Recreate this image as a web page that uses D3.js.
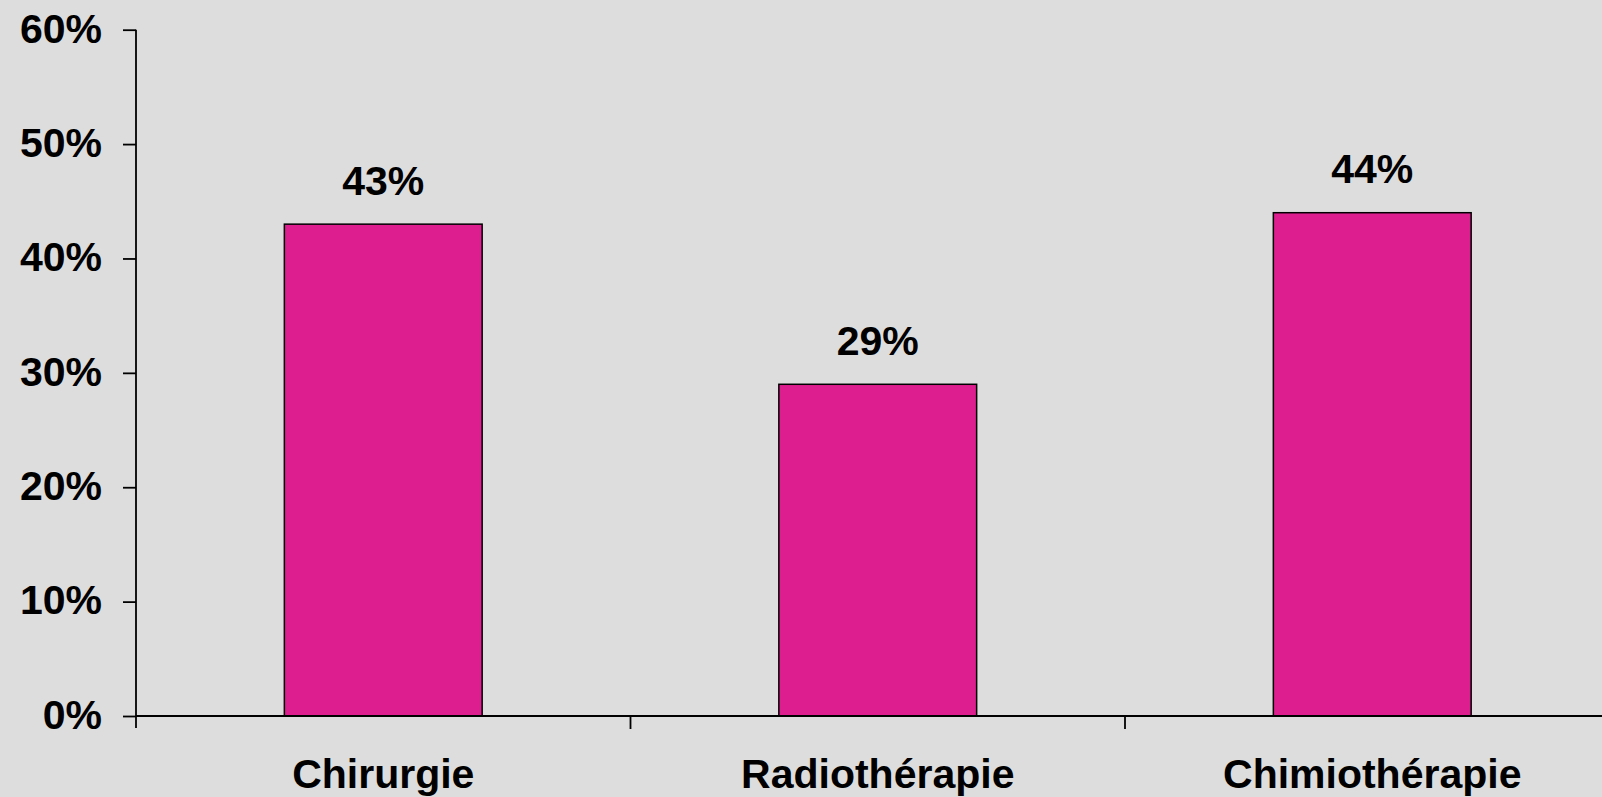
<!DOCTYPE html>
<html>
<head>
<meta charset="utf-8">
<script src="https://cdn.jsdelivr.net/npm/d3@7"></script>
<style>
  html, body { margin: 0; padding: 0; background: #dddddd; }
  svg { display: block; }
  text { font-family: "Liberation Sans", Arial, sans-serif; font-weight: bold; fill: #000; }
</style>
</head>
<body>
<svg id="chart" width="1602" height="797"></svg>
<script>
// Share of patients by treatment type
const categories = ["Chirurgie", "Radiothérapie", "Chimiothérapie"];
const values = [43, 29, 44];
const yTicks = [0, 10, 20, 30, 40, 50, 60];

const svg = d3.select("#chart");
const W = 1602, H = 797;

svg.append("rect").attr("width", W).attr("height", H).attr("fill", "#dddddd");

const x = d3.scaleBand()
  .domain(categories)
  .range([136, 1619.5])
  .paddingInner(0.6)
  .paddingOuter(0.3);

const y = d3.scaleLinear().domain([0, 60]).range([716, 29.7]);

// Bars
svg.append("g").selectAll("rect")
  .data(values)
  .join("rect")
  .attr("x", (d, i) => x(categories[i]))
  .attr("y", d => y(d))
  .attr("width", x.bandwidth())
  .attr("height", d => y(0) - y(d))
  .attr("fill", "#dd1e8f")
  .attr("stroke", "#000")
  .attr("stroke-width", 1.5);

// Value labels
svg.append("g").selectAll("text")
  .data(values)
  .join("text")
  .attr("x", (d, i) => x(categories[i]) + x.bandwidth() / 2)
  .attr("y", d => y(d) - 29.5)
  .attr("text-anchor", "middle")
  .attr("font-size", 41)
  .text(d => d + "%");

// Y axis
const yAxis = svg.append("g")
  .attr("transform", "translate(136,0)")
  .call(d3.axisLeft(y).tickValues(yTicks).tickSize(13).tickPadding(21).tickFormat(d => d + "%"));
yAxis.select(".domain").attr("stroke", "#000").attr("stroke-width", 1.8).attr("d", "M0,29.7V728");
yAxis.selectAll(".tick line").attr("stroke", "#000").attr("stroke-width", 1.8);
yAxis.selectAll(".tick text")
  .attr("font-size", 41)
  .attr("font-family", "Liberation Sans, Arial, sans-serif")
  .attr("font-weight", "bold")
  .attr("fill", "#000")
  .attr("dy", "0.3em");

// X axis
const bandEdges = categories.map(c => x(c) - x.step() * x.paddingInner() / 2);
const xAxisG = svg.append("g").attr("transform", `translate(0,${y(0)})`);
xAxisG.append("line")
  .attr("x1", 136).attr("x2", W)
  .attr("y1", 0).attr("y2", 0)
  .attr("stroke", "#000").attr("stroke-width", 1.8);
xAxisG.selectAll("line.tick")
  .data(bandEdges.slice(1))
  .join("line")
  .attr("class", "tick")
  .attr("x1", d => d).attr("x2", d => d)
  .attr("y1", 0).attr("y2", 13)
  .attr("stroke", "#000").attr("stroke-width", 1.8);
xAxisG.selectAll("text")
  .data(categories)
  .join("text")
  .attr("x", d => x(d) + x.bandwidth() / 2)
  .attr("y", 72)
  .attr("text-anchor", "middle")
  .attr("font-size", 41)
  .text(d => d);
</script>
</body>
</html>
